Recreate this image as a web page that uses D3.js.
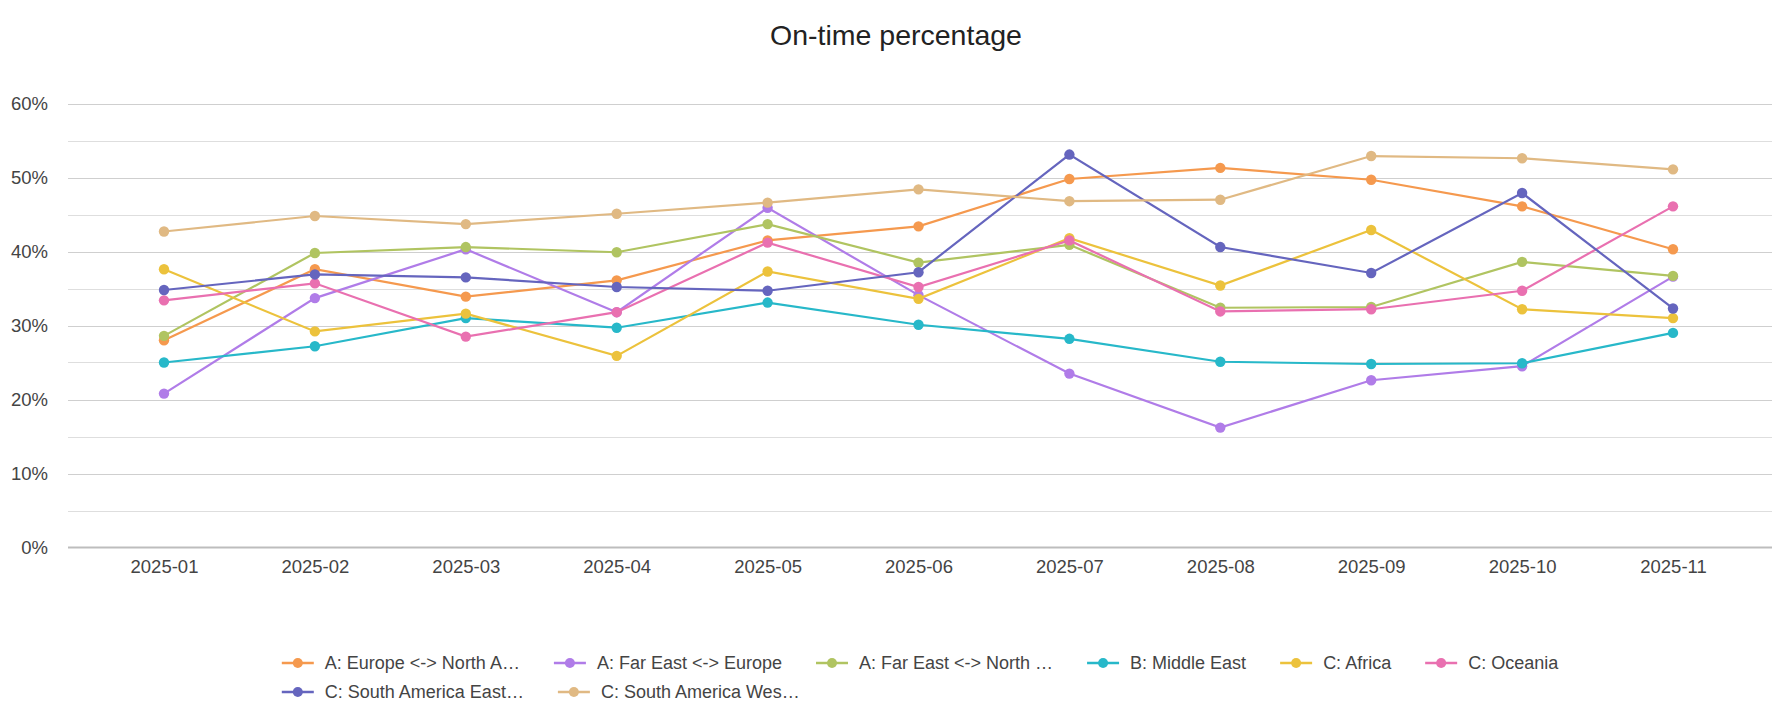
<!DOCTYPE html>
<html>
<head>
<meta charset="utf-8">
<script src="https://cdn.jsdelivr.net/npm/d3@7"></script>
<style>
  body { margin: 0; background: #fff; }
  svg { display: block; font-family: "Liberation Sans", Arial, sans-serif; }
</style>
</head>
<body>
<div id="chart"></div>
<script>
// months on the x axis
const months = ["2025-01", "2025-02", "2025-03", "2025-04", "2025-05", "2025-06",
                "2025-07", "2025-08", "2025-09", "2025-10", "2025-11"];

// on-time percentage per trade lane
const europeNorthAmerica = [28.0, 37.6, 33.9, 36.1, 41.5, 43.4, 49.8, 51.3, 49.7, 46.1, 40.3];
const farEastEurope      = [20.8, 33.7, 40.3, 31.8, 45.9, 34.1, 23.5, 16.2, 22.6, 24.5, 36.6];
const farEastNorthAm     = [28.6, 39.8, 40.6, 39.9, 43.7, 38.5, 40.9, 32.4, 32.5, 38.6, 36.7];
const middleEast         = [25.0, 27.2, 31.0, 29.7, 33.1, 30.1, 28.2, 25.1, 24.8, 24.9, 29.0];
const africa             = [37.6, 29.2, 31.6, 25.9, 37.3, 33.6, 41.8, 35.4, 42.9, 32.2, 31.0];
const oceania            = [33.4, 35.7, 28.5, 31.8, 41.2, 35.2, 41.5, 31.9, 32.2, 34.7, 46.1];
const southAmEast        = [34.8, 36.9, 36.5, 35.2, 34.7, 37.2, 53.1, 40.6, 37.1, 47.9, 32.3];
const southAmWest        = [42.7, 44.8, 43.7, 45.1, 46.6, 48.4, 46.8, 47.0, 52.9, 52.6, 51.1];

// legend labels (truncated as in the original)
const seriesNames = ["A: Europe <-> North A\u2026", "A: Far East <-> Europe", "A: Far East <-> North \u2026",
                     "B: Middle East", "C: Africa", "C: Oceania",
                     "C: South America East\u2026", "C: South America Wes\u2026"];
const seriesValues = [europeNorthAmerica, farEastEurope, farEastNorthAm, middleEast,
                      africa, oceania, southAmEast, southAmWest];
const seriesColors = ["#f5994e", "#b07ce8", "#b0c461", "#27b8c9",
                      "#ecc23c", "#e970b0", "#6565be", "#e0b983"];

const yTicks = [0, 10, 20, 30, 40, 50, 60];
const yGrid = d3.range(0, 61, 5);

var width = 1775, height = 716;
var plotLeft = 68, plotRight = 1772, plotTop = 103.5, plotBottom = 547.5;

var svg = d3.select("#chart").append("svg")
    .attr("width", width)
    .attr("height", height);

svg.append("rect").attr("width", width).attr("height", height).attr("fill", "#fff");

var x = d3.scalePoint().domain(months).range([164, 1673]);
var y = d3.scaleLinear().domain([0, 60]).range([plotBottom, plotTop]);

// title
svg.append("text")
    .attr("x", 896)
    .attr("y", 45)
    .attr("text-anchor", "middle")
    .attr("font-size", 28.5)
    .attr("fill", "#222")
    .text("On-time percentage");

// grid lines every 5%
svg.append("g").selectAll("line")
    .data(yGrid.filter(d => d > 0))
    .join("line")
    .attr("x1", plotLeft).attr("x2", plotRight)
    .attr("y1", d => Math.round(y(d)) + 0.5)
    .attr("y2", d => Math.round(y(d)) + 0.5)
    .attr("stroke", d => d % 10 === 0 ? "#cfcfcf" : "#dedede")
    .attr("stroke-width", 1.2);

// baseline
svg.append("line")
    .attr("x1", plotLeft).attr("x2", plotRight)
    .attr("y1", y(0)).attr("y2", y(0))
    .attr("stroke", "#bdbdbd")
    .attr("stroke-width", 2);

// y axis labels
var yAxis = svg.append("g")
    .attr("transform", "translate(" + plotLeft + ",0)")
    .call(d3.axisLeft(y).tickValues(yTicks).tickFormat(d => d + "%").tickSize(0).tickPadding(20));
yAxis.select(".domain").remove();
yAxis.selectAll("text").attr("font-size", 18.5).attr("fill", "#444").attr("font-family", null);

// x axis labels
var xAxis = svg.append("g")
    .attr("transform", "translate(0," + plotBottom + ")")
    .call(d3.axisBottom(x).tickSize(0).tickPadding(12));
xAxis.select(".domain").remove();
xAxis.selectAll("text").attr("font-size", 18.5).attr("fill", "#444").attr("font-family", null);

// lines and points
var line = d3.line()
    .x((d, i) => x(months[i]))
    .y(d => y(d));

seriesValues.forEach(function(vals, k) {
    var g = svg.append("g");
    g.append("path")
        .datum(vals)
        .attr("d", line)
        .attr("fill", "none")
        .attr("stroke", seriesColors[k])
        .attr("stroke-width", 2.2);
    g.selectAll("circle")
        .data(vals)
        .join("circle")
        .attr("cx", (d, i) => x(months[i]))
        .attr("cy", d => y(d))
        .attr("r", 5.2)
        .attr("fill", seriesColors[k]);
});

// legend, wraps after six items
var legend = svg.append("g");
var items = [];
seriesNames.forEach(function(name, k) {
    var it = legend.append("g");
    it.append("line")
        .attr("x1", 0).attr("x2", 32)
        .attr("stroke", seriesColors[k]).attr("stroke-width", 2.5);
    it.append("circle").attr("cx", 16).attr("r", 5).attr("fill", seriesColors[k]);
    var t = it.append("text")
        .attr("x", 43)
        .attr("dy", "0.35em")
        .attr("font-size", 18)
        .attr("fill", "#444")
        .text(name);
    items.push({ g: it, w: 43 + t.node().getComputedTextLength() });
});

var gap = 34, perRow = 6;
var row1Width = d3.sum(items.slice(0, perRow), d => d.w) + gap * (perRow - 1);
var startX = (plotLeft + plotRight) / 2 - row1Width / 2;
var rowY = [663, 692];
items.forEach(function(d, k) {
    var row = Math.floor(k / perRow);
    var offset = startX;
    for (var j = row * perRow; j < k; j++) offset += items[j].w + gap;
    d.g.attr("transform", "translate(" + offset + "," + rowY[row] + ")");
});
</script>
</body>
</html>
